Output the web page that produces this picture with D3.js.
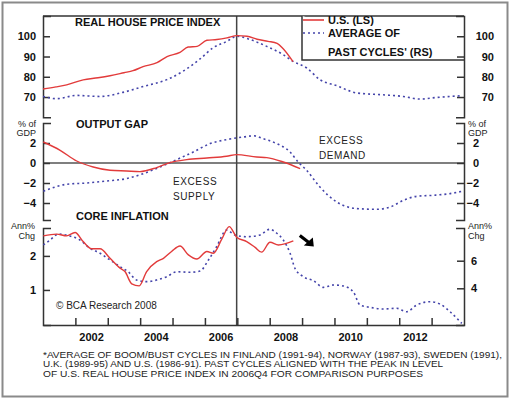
<!DOCTYPE html>
<html>
<meta charset="utf-8">
<title>Real house price index, output gap, core inflation</title>
<script src="https://cdn.jsdelivr.net/npm/d3@7"></script>
<style>
  body { margin: 0; background: #fff; }
  svg text { font-family: "Liberation Sans", Arial, sans-serif; }
  .tick text { font-weight: bold; font-size: 11px; fill: #111; }
  .ax path, .ax line { stroke: #333; stroke-width: 1.5; }
  .lbl { font-size: 9px; fill: #222; }
  .ttl { font-size: 11px; font-weight: bold; fill: #111; }
</style>
<body>
<svg id="chart" width="510" height="399"></svg>
<script>
// ---- data (time in decimal years) ----
// real house price index
var usHouse = [[2001.0,74],[2001.4,75],[2001.73,76],[2002.24,78.5],[2002.7,79.5],[2003.07,80.5],[2003.5,82],
  [2003.78,83],[2004.09,85],[2004.52,87],[2004.83,90],[2005.23,92],[2005.48,94.7],[2005.76,95],[2006.06,98],
  [2006.37,98.4],[2006.68,99.2],[2006.99,100.3],[2007.3,100],[2007.61,98.5],[2007.95,97.5],[2008.23,96.5],
  [2008.41,94],[2008.72,87.5]];
var pastHouse = [[2001.0,70.3],[2001.42,69.2],[2002.04,70.8],[2002.76,70.3],[2003.47,72.3],[2004.09,75.2],
  [2004.83,78.6],[2005.32,82.7],[2005.85,88.8],[2006.25,94.3],[2006.68,97.5],[2006.99,100],[2007.39,98.4],
  [2007.91,95],[2008.41,91],[2008.72,87.6],[2009.14,84.4],[2009.55,78.6],[2010.07,75.6],[2010.69,72],
  [2011.5,71.1],[2012.12,70.3],[2012.64,69],[2013.16,69.8],[2013.88,70.6]];
// output gap, % of GDP
var usGap = [[2001.01,2.1],[2001.53,1.27],[2002.04,0.2],[2002.55,-0.4],[2003.07,-0.73],[2003.58,-0.8],
  [2003.99,-0.86],[2004.51,-0.46],[2004.92,0.04],[2005.44,0.34],[2006.06,0.5],[2006.67,0.67],[2006.98,0.84],
  [2007.6,0.6],[2007.91,0.54],[2008.42,0.1],[2008.94,-0.56]];
var pastGap = [[2001.01,-2.83],[2001.73,-2.13],[2002.35,-2.0],[2002.97,-1.8],[2003.58,-1.56],[2004.1,-1.06],
  [2004.61,-0.4],[2005.13,0.34],[2005.64,1.1],[2006.16,1.94],[2006.67,2.34],[2007.19,2.6],[2007.5,2.72],
  [2007.79,2.44],[2008.22,1.94],[2008.63,1.1],[2008.88,0.1],[2009.14,-0.73],[2009.55,-2.4],[2010.07,-3.9],
  [2010.69,-4.56],[2011.31,-4.63],[2011.72,-4.4],[2012.13,-3.73],[2012.54,-3.33],[2013.05,-3.23],
  [2013.57,-3.06],[2013.93,-2.83]];
// core inflation, ann % chg
var usInfl = [[2001.01,2.59],[2001.42,2.64],[2001.73,2.59],[2001.99,2.69],[2002.24,2.42],[2002.5,2.21],
  [2002.76,2.21],[2003.07,1.93],[2003.38,1.64],[2003.53,1.54],[2003.74,1.18],[2003.97,1.12],[2004.2,1.54],
  [2004.51,1.83],[2004.72,1.93],[2004.97,2.13],[2005.23,2.29],[2005.49,2.03],[2005.75,1.91],[2006.06,2.13],
  [2006.26,2.08],[2006.52,2.49],[2006.75,2.86],[2006.98,2.55],[2007.29,2.42],[2007.55,2.25],[2007.75,2.11],
  [2008.01,2.4],[2008.27,2.32],[2008.73,2.44]];
var pastInfl = [[2001.01,7.14],[2001.22,7.5],[2001.47,7.93],[2001.83,7.79],[2002.14,7.5],[2002.45,6.9],
  [2002.76,6.54],[2003.07,6.05],[2003.38,5.57],[2003.63,5.2],[2003.89,4.6],[2004.2,4.48],[2004.51,4.6],
  [2004.82,4.84],[2005.13,5.2],[2005.54,5.16],[2005.85,5.25],[2006.11,6.05],[2006.36,7.01],[2006.67,8.22],
  [2006.93,7.86],[2007.29,7.74],[2007.7,7.86],[2008.01,8.28],[2008.22,7.99],[2008.42,7.5],[2008.63,6.54],
  [2008.78,5.45],[2009.04,4.84],[2009.35,4.55],[2009.66,4.07],[2009.97,4.24],[2010.28,4.17],[2010.58,3.75],
  [2010.79,2.79],[2011.1,2.62],[2011.51,2.5],[2011.92,2.55],[2012.23,2.3],[2012.54,2.79],[2012.95,3.03],
  [2013.26,2.86],[2013.57,2.3],[2013.93,1.46]];

var peakYear = 2006.98;
var yearTicks = [2002,2003,2004,2005,2006,2007,2008,2009,2010,2011,2012,2013];
var yearLabels = [2002,2004,2006,2008,2010,2012];
var houseTicks = [70,80,90,100];
var gapTicks = [-4,-2,0,2];
var inflLTicks = [1,2];
var inflRTicks = [4,6];
var footnote = [
  "*AVERAGE OF BOOM/BUST CYCLES IN FINLAND (1991-94), NORWAY (1987-93), SWEDEN (1991),",
  "U.K. (1989-95) AND U.S. (1986-91). PAST CYCLES ALIGNED WITH THE PEAK IN LEVEL",
  "OF U.S. REAL HOUSE PRICE INDEX IN 2006Q4 FOR COMPARISON PURPOSES"];

var red = "#e23b3b", blue = "#4444aa";

var svg = d3.select("#chart");
var L = 43, R = 464, B = 325;
var fmt = d3.format("d");

svg.append("rect").attr("x", 2.5).attr("y", 2.5).attr("width", 505).attr("height", 394)
  .attr("fill", "#fff").attr("stroke", "#8a8a8a").attr("stroke-width", 2);

var x = d3.scaleLinear().domain([2001, 2014]).range([L, R]);
var y1 = d3.scaleLinear().domain([60, 110]).range([117.3, 16]);
var y2 = d3.scaleLinear().domain([-5.7, 4]).range([220, 123]);
var y3L = d3.scaleLinear().domain([-0.03, 2.82]).range([B, 228]);
var y3R = d3.scaleLinear().domain([1.34, 8.37]).range([B, 228]);

// zero line & peak line
svg.append("line").attr("x1", L).attr("x2", R).attr("y1", y2(0)).attr("y2", y2(0))
  .attr("stroke", "#555").attr("stroke-width", 1.3);
svg.append("line").attr("x1", x(peakYear)).attr("x2", x(peakYear)).attr("y1", 16).attr("y2", B)
  .attr("stroke", "#444").attr("stroke-width", 1.5);

function drawAxes(scaleL, scaleR, lt, rt, rOff) {
  svg.append("g").attr("class", "ax").attr("transform", "translate(" + L + ",0)")
    .call(d3.axisLeft(scaleL).tickValues(lt).tickFormat(fmt).tickSizeInner(-7).tickSizeOuter(-8).tickPadding(7));
  svg.append("g").attr("class", "ax").attr("transform", "translate(" + R + ",0)")
    .call(d3.axisRight(scaleR).tickValues(rt).tickFormat(fmt).tickSizeInner(-7).tickSizeOuter(-8))
    .selectAll(".tick text").attr("text-anchor", "end").attr("x", rOff);
}
drawAxes(y1, y1, houseTicks, houseTicks, 30);
drawAxes(y2, y2, gapTicks, gapTicks, 15);
drawAxes(y3L, y3R, inflLTicks, inflRTicks, 13);
svg.selectAll(".ax").attr("font-family", null).attr("font-size", null);

// top line and bottom axis
svg.append("line").attr("x1", L).attr("x2", R).attr("y1", 16).attr("y2", 16)
  .attr("stroke", "#333").attr("stroke-width", 1.5);
svg.append("g").attr("class", "ax").attr("transform", "translate(0," + B + ")")
  .call(d3.axisBottom(x).tickValues(yearTicks).tickSizeInner(-7).tickSizeOuter(0).tickFormat(""));
svg.selectAll(".yl").data(yearLabels).join("text").attr("class", "ttl")
  .attr("x", function(d) { return x(d + 0.5); }).attr("y", 340.5).attr("text-anchor", "middle")
  .text(function(d) { return d; });

// series
function drawLine(data, yS, col, dotted) {
  var p = svg.append("path").datum(data)
    .attr("d", d3.line().x(function(d) { return x(d[0]); }).y(function(d) { return yS(d[1]); }).curve(d3.curveMonotoneX))
    .attr("fill", "none").attr("stroke", col);
  if (dotted) p.attr("stroke-width", 1.6).attr("stroke-dasharray", "2,3");
  else p.attr("stroke-width", 1.4);
}
drawLine(pastHouse, y1, blue, true);
drawLine(usHouse, y1, red, false);
drawLine(pastGap, y2, blue, true);
drawLine(usGap, y2, red, false);
drawLine(pastInfl, y3R, blue, true);
drawLine(usInfl, y3L, red, false);

// legend
var lg = svg.append("g");
lg.append("path").attr("d", "M302,16V60H464").attr("fill", "#fff").attr("stroke", "#333").attr("stroke-width", 1.5);
lg.append("line").attr("x1", 303).attr("x2", 324).attr("y1", 20).attr("y2", 20).attr("stroke", red).attr("stroke-width", 1.6);
lg.append("line").attr("x1", 303).attr("x2", 324).attr("y1", 33).attr("y2", 33).attr("stroke", blue)
  .attr("stroke-width", 1.6).attr("stroke-dasharray", "2,3");
lg.append("text").attr("class", "ttl").attr("x", 328).attr("y", 24).text("U.S. (LS)");
lg.append("text").attr("class", "ttl").attr("x", 328).attr("y", 37).text("AVERAGE OF");
lg.append("text").attr("class", "ttl").attr("x", 328).attr("y", 55.5).text("PAST CYCLES' (RS)");

// panel titles
svg.append("text").attr("class", "ttl").attr("x", 75).attr("y", 26).text("REAL HOUSE PRICE INDEX");
svg.append("text").attr("class", "ttl").attr("x", 76).attr("y", 127.5).text("OUTPUT GAP");
svg.append("text").attr("class", "ttl").attr("x", 76).attr("y", 220).text("CORE INFLATION");

// units
function units(xx, yy, lines, anchor) {
  lines.forEach(function(t, i) {
    svg.append("text").attr("class", "lbl").attr("x", xx).attr("y", yy + i * 9.5)
      .attr("text-anchor", anchor).text(t);
  });
}
units(36, 126.5, ["% of", "GDP"], "end");
units(468, 126.5, ["% of", "GDP"], "start");
units(35, 229, ["Ann%", "Chg"], "end");
units(468, 229, ["Ann%", "Chg"], "start");

// annotations
function note(xx, yy, lines) {
  lines.forEach(function(t, i) {
    svg.append("text").attr("x", xx).attr("y", yy + i * 15).attr("font-size", "10px")
      .attr("letter-spacing", "0.6px").attr("fill", "#222").text(t);
  });
}
note(173, 184.5, ["EXCESS", "SUPPLY"]);
note(319, 143.5, ["EXCESS", "DEMAND"]);
svg.append("text").attr("x", 56).attr("y", 309).attr("font-size", "10px").attr("fill", "#222")
  .text("\u00A9 BCA Research 2008");

// arrow
var ax0 = x(2008.93), ay0 = y3R(7.82);
svg.append("line").attr("x1", ax0).attr("y1", ay0).attr("x2", ax0 + 9).attr("y2", ay0 + 7)
  .attr("stroke", "#000").attr("stroke-width", 3.2);
svg.append("path").attr("d", "M" + (ax0 + 14) + "," + (ay0 + 11) + "l-10,-1l9,-8z").attr("fill", "#000");

// footnote
var fw = [459, 400, 380];
footnote.forEach(function(t, i) {
  svg.append("text").attr("x", 43).attr("y", 357.5 + i * 9.7).attr("font-size", "9.3px").attr("fill", "#222")
    .attr("textLength", fw[i]).attr("lengthAdjust", "spacingAndGlyphs").text(t);
});
</script>
</body>
</html>
